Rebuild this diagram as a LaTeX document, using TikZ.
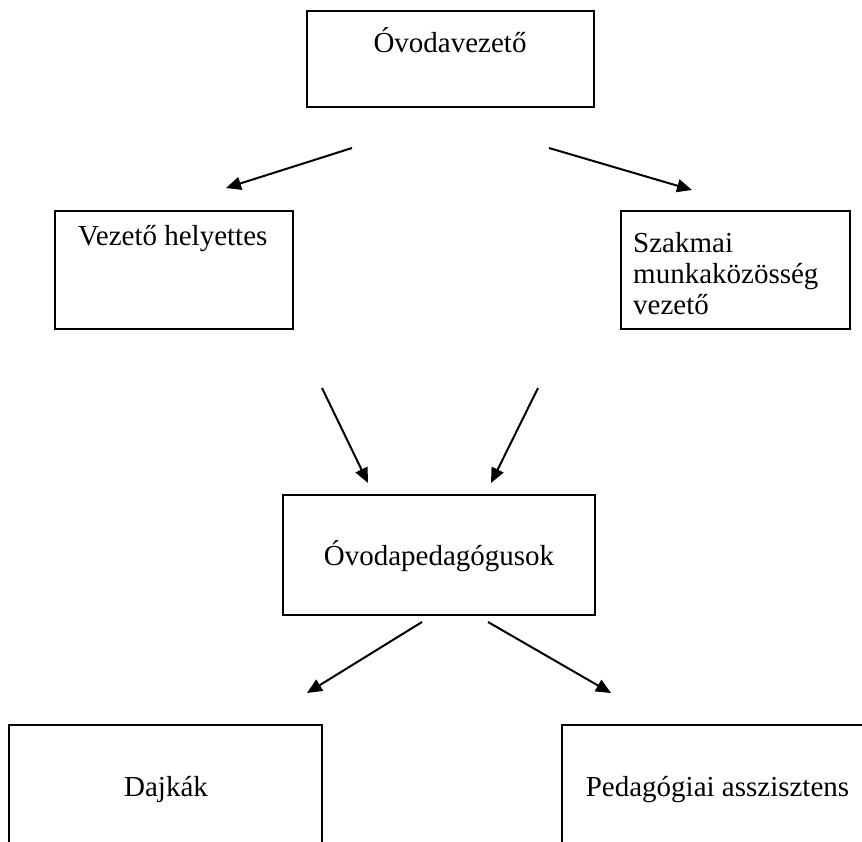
\documentclass[tikz,border=0pt]{standalone}
\usepackage{fontspec}
\setmainfont{Liberation Serif}
\usetikzlibrary{arrows.meta}
\begin{document}
\begin{tikzpicture}[x=1pt,y=-1pt,
  box/.style={draw, line width=2pt, rectangle, inner sep=0pt, outer sep=0pt, anchor=north west},
  lbl/.style={font=\fontsize{29}{31}\selectfont, inner sep=0pt, anchor=base},
  arr/.style={line width=2pt, -{Triangle[length=15pt,width=13pt]}}]
\useasboundingbox (0,0) rectangle (862,841);
\clip (0,0) rectangle (862,841);
% boxes
\node[box, line width=2.6pt, minimum width=287pt, minimum height=96pt] (boss) at (307,11) {};
\node[lbl] (bosst) at (450,52) {Óvodavezető};
\node[box, minimum width=238pt, minimum height=118pt] (dep) at (55,211) {};
\node[lbl, anchor=base west] (dept) at (78,245) {Vezető helyettes};
\node[box, line width=2.3pt, minimum width=229pt, minimum height=118pt] (prof) at (621,211) {};
\node[lbl, anchor=base west] (proft) at (633,252) {\begin{tabular}[t]{@{}l@{}}Szakmai\\munkaközösség\\vezető\end{tabular}};
\node[box, minimum width=312pt, minimum height=120pt] (ped) at (283,495) {};
\node[lbl] (pedt) at (439,565) {Óvodapedagógusok};
\node[box, minimum width=313pt, minimum height=200pt] (dajka) at (9,725) {};
\node[lbl] (dajkat) at (166,796) {Dajkák};
\node[box, minimum width=350pt, minimum height=200pt] (assz) at (562,725) {};
\node[lbl] (asszt) at (717.5,796) {Pedagógiai asszisztens};
% arrow ends
\coordinate (a1s) at (352,148); \coordinate (a1e) at (226,188);
\coordinate (a2s) at (549,148); \coordinate (a2e) at (692,190);
\coordinate (a3s) at (322,388); \coordinate (a3e) at (368,483);
\coordinate (a4s) at (538,388); \coordinate (a4e) at (491,483);
\coordinate (a5s) at (422,622); \coordinate (a5e) at (307,693);
\coordinate (a6s) at (488,622); \coordinate (a6e) at (611,693);
\draw[arr] (a1s) -- (a1e);
\draw[arr] (a2s) -- (a2e);
\draw[arr] (a3s) -- (a3e);
\draw[arr] (a4s) -- (a4e);
\draw[arr] (a5s) -- (a5e);
\draw[arr] (a6s) -- (a6e);
\end{tikzpicture}
\end{document}
